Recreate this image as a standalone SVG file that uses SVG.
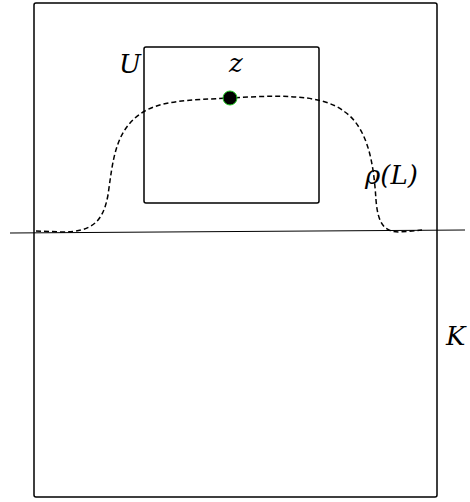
<svg xmlns="http://www.w3.org/2000/svg" width="470" height="502" viewBox="0 0 470 502">
<style>
.lbl{font-family:"DejaVu Serif","Liberation Serif",serif;font-style:italic;font-size:26px;fill:#000}
.box{fill:none;stroke:#000;stroke-width:1.5}
</style>
<rect width="470" height="502" fill="#fff"/>
<g id="K">
<rect class="box" x="34" y="3" width="403" height="494" rx="2"/>
<text class="lbl" x="446" y="345">K</text>
</g>
<g id="U">
<rect class="box" x="144" y="47" width="175" height="156" rx="2"/>
<text class="lbl" x="119" y="73">U</text>
</g>
<g id="connectors">
<line x1="10" y1="233" x2="465" y2="230" stroke="#000" stroke-width="1"/>
<path d="M36,231 L62,232 C92,232 103,222 108,195 C113,160 115,132 140,114 C160,100 190,100 230,98 C270,96 320,92 345,112 C370,130 374,170 376,200 C378,225 385,232 400,232 L422,230" fill="none" stroke="#000" stroke-width="1.5" stroke-dasharray="5,3"/>
</g>
<g id="z">
<circle cx="230" cy="98" r="7" fill="#000" stroke="#2c2" stroke-width="1"/>
<text class="lbl" x="229" y="72">z</text>
</g>
<g id="rhoL">
<text class="lbl" x="365" y="184">ρ(L)</text>
</g>
</svg>
